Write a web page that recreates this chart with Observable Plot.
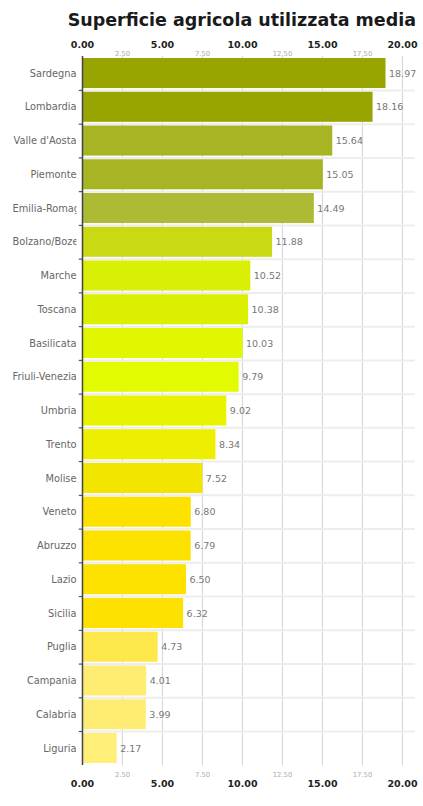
<!DOCTYPE html>
<html>
<head>
<meta charset="utf-8">
<script src="https://cdn.jsdelivr.net/npm/d3@7"></script>
<script src="https://cdn.jsdelivr.net/npm/@observablehq/plot@0.6"></script>
<style>
  html, body { margin: 0; padding: 0; background: #fff; }
  #title { position: absolute; left: 0; top: 10px; width: 423px; text-align: right; box-sizing: border-box; padding-right: 7px;
    font-family: "DejaVu Sans", Verdana, sans-serif; font-weight: bold; font-size: 17.5px; color: #1a1a1a; white-space: nowrap; }
  #chart { position: absolute; left: 0; top: 30px; }
</style>
</head>
<body>
<div id="title">Superficie agricola utilizzata media</div>
<div id="chart"></div>
<script>
const regions = ["Sardegna","Lombardia","Valle d'Aosta","Piemonte","Emilia-Romagna","Bolzano/Bozen","Marche","Toscana","Basilicata","Friuli-Venezia Giulia","Umbria","Trento","Molise","Veneto","Abruzzo","Lazio","Sicilia","Puglia","Campania","Calabria","Liguria"];
const values = [18.97,18.16,15.64,15.05,14.49,11.88,10.52,10.38,10.03,9.79,9.02,8.34,7.52,6.80,6.79,6.50,6.32,4.73,4.01,3.99,2.17];
const barColors = ["#98a500","#98a500","#a7b525","#a7b525","#adba33","#c9d912","#d9ef05","#daf000","#e1f700","#e3fb00","#e8f300","#eeef00","#f2e600","#fde200","#fde200","#fde200","#fde100","#ffe84c","#ffec72","#ffec72","#ffee78"];
const majorTicks = [0,5,10,15,20];
const minorTicks = [2.5,7.5,12.5,17.5];
const gridTicks = [0,2.5,5,7.5,10,12.5,15,17.5,20];

const data = regions.map((r,i) => ({region: r, value: values[i]}));
const fmt = d3.format(".2f");
const step = (735-26)/(21 - 0.11 + 0.12);

// label column: 12px .. 76px; long labels are left-aligned and clipped
const labelFont = 9.8;
const ctx = document.createElement("canvas").getContext("2d");
ctx.font = `${labelFont}px 'DejaVu Sans'`;
const fits = r => ctx.measureText(r).width <= 64;

const plot = Plot.plot({
  width: 423,
  height: 776,
  marginLeft: 82,
  marginRight: 21,
  marginTop: 26,
  marginBottom: 41,
  style: {fontFamily: "'DejaVu Sans', Verdana, sans-serif", background: "#fff"},
  x: {domain: [0, 20], axis: null, label: null},
  y: {domain: regions, axis: null, label: null, paddingInner: 0.11, paddingOuter: 0.06, align: 0.5, round: false},
  color: {domain: regions, range: barColors},
  marks: [
    Plot.ruleX(gridTicks, {stroke: "#d9d9d9", strokeWidth: 1.2}),
    Plot.ruleY(regions.slice(0, -1), {y: d => d, dy: step/2, x1: -0.2, x2: 20.8, stroke: "#ededed", strokeWidth: 2}),
    Plot.ruleY(regions.slice(0, -1), {y: d => d, dy: step/2, x1: -0.2, x2: 0, stroke: "#444", strokeWidth: 1}),
    Plot.barX(data, {y: "region", x: "value", fill: "region"}),
    Plot.ruleX([0], {stroke: "#444", strokeWidth: 1.5}),
    Plot.text(data, {y: "region", x: "value", text: d => fmt(d.value), dx: 3, textAnchor: "start", fill: "#777", fontSize: 9.5}),
    Plot.text(regions.filter(fits), {y: d => d, text: d => d, frameAnchor: "left", dx: -6, textAnchor: "end", fontSize: labelFont, fill: "#666"}),
    Plot.text(regions.filter(r => !fits(r)), {y: d => d, text: d => d, frameAnchor: "left", dx: -70, textAnchor: "start", fontSize: labelFont, fill: "#666", className: "longlab"}),
    Plot.axisX({anchor: "top", ticks: majorTicks, tickFormat: fmt, tickSize: 0, tickPadding: 9, fontSize: 9.5, fontWeight: "bold", fill: "#222", label: null}),
    Plot.axisX({anchor: "top", ticks: minorTicks, tickFormat: fmt, tickSize: 0, tickPadding: 1, fontSize: 6.8, fill: "#aaa", label: null}),
    Plot.axisX({anchor: "bottom", ticks: majorTicks, tickFormat: fmt, tickSize: 0, tickPadding: 15, fontSize: 9.5, fontWeight: "bold", fill: "#222", label: null}),
    Plot.axisX({anchor: "bottom", ticks: minorTicks, tickFormat: fmt, tickSize: 0, tickPadding: 7, fontSize: 6.8, fill: "#aaa", label: null})
  ]
});
document.getElementById("chart").appendChild(plot);

// clip the long region labels at the edge of the label column
const svgns = "http://www.w3.org/2000/svg";
const defs = document.createElementNS(svgns, "defs");
const cp = document.createElementNS(svgns, "clipPath");
cp.setAttribute("id", "labclip");
const rect = document.createElementNS(svgns, "rect");
rect.setAttribute("x", 0); rect.setAttribute("y", 0); rect.setAttribute("width", 76.5); rect.setAttribute("height", 776);
cp.appendChild(rect); defs.appendChild(cp); plot.insertBefore(defs, plot.firstChild);
plot.querySelectorAll("g.longlab").forEach(g => {
  const wrap = document.createElementNS(svgns, "g");
  wrap.setAttribute("clip-path", "url(#labclip)");
  g.parentNode.insertBefore(wrap, g);
  wrap.appendChild(g);
});
</script>
</body>
</html>
